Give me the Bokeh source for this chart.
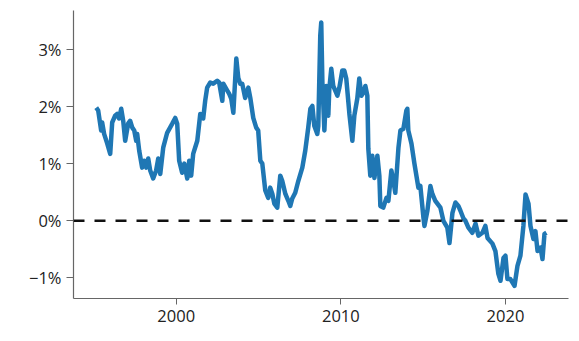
from bokeh.plotting import figure
from bokeh.models import FixedTicker, Span, Range1d
from bokeh.embed import file_html
from bokeh.resources import INLINE

years = [
    1995.14, 1995.26, 1995.44, 1995.50, 1995.62, 1995.81, 1995.99, 1996.11, 1996.29, 1996.41,
    1996.53, 1996.66, 1996.78, 1996.90, 1997.08, 1997.20, 1997.33, 1997.45, 1997.57, 1997.63,
    1997.75, 1997.93, 1998.05, 1998.18, 1998.30, 1998.42, 1998.60, 1998.78, 1998.91, 1999.03,
    1999.21, 1999.45, 1999.76, 1999.94, 2000.06, 2000.18, 2000.36, 2000.49, 2000.67, 2000.79,
    2000.91, 2001.03, 2001.28, 2001.46, 2001.64, 2001.76, 2001.88, 2002.07, 2002.25, 2002.49,
    2002.61, 2002.80, 2002.86, 2003.10, 2003.22, 2003.34, 2003.47, 2003.65, 2003.77, 2003.89,
    2004.01, 2004.19, 2004.38, 2004.50, 2004.68, 2004.86, 2004.98, 2005.11, 2005.23, 2005.41,
    2005.59, 2005.71, 2005.84, 2005.96, 2006.14, 2006.32, 2006.44, 2006.63, 2006.81, 2006.93,
    2007.05, 2007.23, 2007.42, 2007.66, 2007.84, 2008.02, 2008.15, 2008.27, 2008.39, 2008.57,
    2008.63, 2008.75, 2008.81, 2008.88, 2009.00, 2009.12, 2009.24, 2009.30, 2009.42, 2009.54,
    2009.79, 2009.91, 2010.09, 2010.21, 2010.33, 2010.46, 2010.52, 2010.70, 2010.82, 2011.00,
    2011.12, 2011.25, 2011.37, 2011.49, 2011.61, 2011.67, 2011.79, 2011.91, 2012.04, 2012.22,
    2012.34, 2012.40, 2012.58, 2012.77, 2012.89, 2013.07, 2013.19, 2013.31, 2013.50, 2013.62,
    2013.80, 2013.98, 2014.04, 2014.10, 2014.29, 2014.47, 2014.71, 2014.83, 2015.02, 2015.08,
    2015.26, 2015.44, 2015.56, 2015.74, 2016.05, 2016.23, 2016.47, 2016.60, 2016.78, 2016.96,
    2017.14, 2017.26, 2017.45, 2017.57, 2017.75, 2017.99, 2018.18, 2018.36, 2018.60, 2018.78,
    2018.91, 2019.21, 2019.39, 2019.57, 2019.70, 2019.88, 2020.00, 2020.12, 2020.30, 2020.55,
    2020.73, 2020.91, 2021.09, 2021.22, 2021.40, 2021.52, 2021.70, 2021.82, 2021.95, 2022.13,
    2022.25, 2022.37, 2022.49,
]

values = [
    1.98, 1.93, 1.58, 1.72, 1.52, 1.35, 1.17, 1.72, 1.84, 1.87,
    1.79, 1.96, 1.75, 1.40, 1.70, 1.75, 1.63, 1.58, 1.40, 1.52,
    1.23, 0.93, 1.05, 0.93, 1.09, 0.88, 0.74, 0.88, 1.09, 0.82,
    1.28, 1.54, 1.70, 1.80, 1.70, 1.05, 0.84, 1.00, 0.74, 1.05,
    0.79, 1.17, 1.40, 1.87, 1.79, 2.10, 2.33, 2.42, 2.40, 2.45,
    2.42, 2.10, 2.40, 2.28, 2.22, 2.14, 1.89, 2.84, 2.50, 2.40,
    2.40, 2.15, 2.33, 2.15, 1.80, 1.63, 1.58, 1.05, 1.00, 0.53,
    0.40, 0.58, 0.47, 0.30, 0.23, 0.79, 0.70, 0.47, 0.35, 0.26,
    0.39, 0.49, 0.70, 0.93, 1.23, 1.63, 1.96, 2.01, 1.66, 1.52,
    1.66, 3.24, 3.47, 2.42, 1.58, 2.36, 1.84, 2.31, 2.66, 2.36,
    2.19, 2.33, 2.63, 2.63, 2.49, 2.07, 1.87, 1.40, 1.84, 2.14,
    2.49, 2.19, 2.24, 2.36, 2.19, 1.26, 0.79, 1.14, 0.75, 1.14,
    0.79, 0.26, 0.23, 0.40, 0.35, 0.88, 0.70, 0.49, 1.28, 1.58,
    1.61, 1.93, 1.96, 1.58, 1.35, 1.00, 0.58, 0.61, 0.05, -0.09,
    0.18, 0.61, 0.47, 0.35, 0.23, 0.00, -0.12, -0.39, 0.14, 0.32,
    0.26, 0.18, 0.04, 0.00, -0.12, -0.21, -0.05, -0.26, -0.21, -0.09,
    -0.30, -0.40, -0.53, -0.93, -1.05, -0.65, -0.61, -1.02, -1.02, -1.14,
    -0.79, -0.61, -0.09, 0.46, 0.30, -0.09, -0.32, -0.18, -0.53, -0.47,
    -0.67, -0.23, -0.21,
]

x_ticks = [2000, 2010, 2020]
x_tick_labels = ["2000", "2010", "2020"]
y_ticks = [-1, 0, 1, 2, 3]
y_tick_labels = ["\u22121%", "0%", "1%", "2%", "3%"]

FONT = "Open Sans"

p = figure(width=571, height=333, output_backend="svg", toolbar_location=None,
           x_range=Range1d(1993.76, 2023.83), y_range=Range1d(-1.36, 3.68),
           min_border_left=73, min_border_right=3, min_border_top=10, min_border_bottom=35)
p.outline_line_color = None
p.xgrid.visible = False
p.ygrid.visible = False
p.background_fill_color = "white"
p.border_fill_color = "white"

p.line(years, values, line_color="#1f77b4", line_width=4.5, line_join="round")

zero = Span(location=0, dimension="width", line_color="#111111",
            line_width=2.5, line_dash="11 10")
p.add_layout(zero)

p.xaxis.ticker = FixedTicker(ticks=x_ticks)
p.xaxis.major_label_overrides = {t: l for t, l in zip(x_ticks, x_tick_labels)}
p.yaxis.ticker = FixedTicker(ticks=y_ticks)
p.yaxis.major_label_overrides = {t: l for t, l in zip(y_ticks, y_tick_labels)}

for ax in (p.xaxis, p.yaxis):
    ax.axis_line_color = "#666666"
    ax.axis_line_width = 1.2
    ax.major_tick_line_color = "#666666"
    ax.major_tick_in = 0
    ax.minor_tick_line_color = None
    ax.major_label_text_font = FONT
    ax.major_label_text_font_size = "16.5px"
    ax.major_label_text_color = "#222222"
p.xaxis.major_tick_out = 6
p.yaxis.major_tick_out = 7
p.xaxis.major_label_standoff = 5
p.yaxis.major_label_standoff = 5

open("out.html", "w").write(file_html(p, INLINE))
